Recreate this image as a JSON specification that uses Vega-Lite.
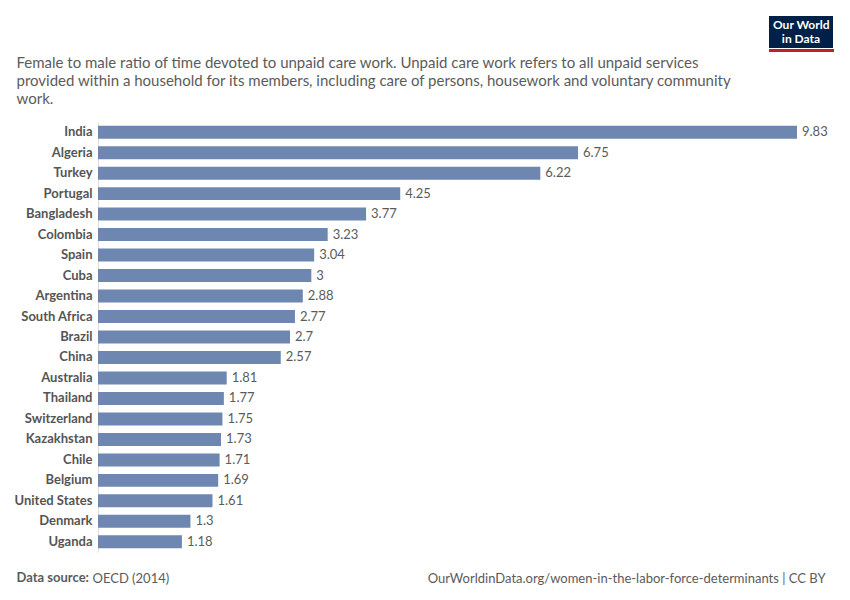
{
  "$schema": "https://vega.github.io/schema/vega-lite/v6.json",
  "autosize": "none",
  "width": 699,
  "height": 430,
  "padding": {"left": 98, "top": 122, "right": 53, "bottom": 48},
  "background": "white",
  "config": {"view": {"stroke": null}, "font": "Lato"},
  "data": {"values": [
    {"country": "India", "value": 9.83},
    {"country": "Algeria", "value": 6.75},
    {"country": "Turkey", "value": 6.22},
    {"country": "Portugal", "value": 4.25},
    {"country": "Bangladesh", "value": 3.77},
    {"country": "Colombia", "value": 3.23},
    {"country": "Spain", "value": 3.04},
    {"country": "Cuba", "value": 3},
    {"country": "Argentina", "value": 2.88},
    {"country": "South Africa", "value": 2.77},
    {"country": "Brazil", "value": 2.7},
    {"country": "China", "value": 2.57},
    {"country": "Australia", "value": 1.81},
    {"country": "Thailand", "value": 1.77},
    {"country": "Switzerland", "value": 1.75},
    {"country": "Kazakhstan", "value": 1.73},
    {"country": "Chile", "value": 1.71},
    {"country": "Belgium", "value": 1.69},
    {"country": "United States", "value": 1.61},
    {"country": "Denmark", "value": 1.3},
    {"country": "Uganda", "value": 1.18}
  ]},
  "resolve": {"scale": {"x": "independent", "y": "independent", "color": "independent"}, "axis": {"x": "independent", "y": "independent"}, "legend": {"color": "independent"}},
  "layer": [
    {
      "mark": {"type": "bar", "color": "#6d87b0"},
      "encoding": {
        "x": {
          "field": "value", "type": "quantitative",
          "scale": {"domain": [0, 9.83], "nice": false, "zero": true},
          "axis": {
            "orient": "bottom", "labels": false, "ticks": false, "domain": false, "grid": false,
            "title": "Data source:", "titleX": -82, "titleY": 29.5, "titleAlign": "left", "titleAnchor": "start",
            "titleBaseline": "alphabetic", "titleFont": "Lato", "titleFontSize": 13, "titleFontWeight": "bold", "titleColor": "#5b5b5b"
          }
        },
        "y": {
          "field": "country", "type": "nominal",
          "scale": {"domain": ["India","Algeria","Turkey","Portugal","Bangladesh","Colombia","Spain","Cuba","Argentina","South Africa","Brazil","China","Australia","Thailand","Switzerland","Kazakhstan","Chile","Belgium","United States","Denmark","Uganda"], "paddingInner": 0.366, "paddingOuter": 0.18},
          "axis": {
            "orient": "left", "ticks": false, "domain": true, "domainColor": "#dddddd", "grid": false,
            "labelFont": "Lato", "labelFontSize": 13, "labelFontWeight": "bold", "labelColor": "#555555", "labelPadding": 6,
            "title": "OurWorldinData.org/women-in-the-labor-force-determinants | CC BY",
            "titleAngle": 0, "titleX": 727, "titleY": 460, "titleAlign": "right", "titleBaseline": "alphabetic",
            "titleFont": "Lato", "titleFontSize": 13, "titleFontWeight": "normal", "titleColor": "#5b5b5b"
          }
        },
        "color": {
          "datum": "logo",
          "scale": {"range": ["#6d87b0"]},
          "legend": {
            "orient": "none", "legendX": 671, "legendY": -106,
            "title": "in Data", "titleOrient": "bottom", "titleAnchor": "middle", "titlePadding": 3,
            "titleColor": "#ffffff", "titleFont": "Lato", "titleFontSize": 12, "titleFontWeight": "bold",
            "fillColor": "#002147", "padding": 3, "symbolSize": 0, "symbolOpacity": 0, "symbolStrokeWidth": 0,
            "labelOffset": -11, "labelExpr": "'Our World'", "labelColor": "#ffffff",
            "labelFont": "Lato", "labelFontSize": 12, "labelFontWeight": "bold"
          }
        }
      }
    },
    {
      "mark": {"type": "text", "align": "left", "baseline": "middle", "dx": 5, "font": "Lato", "fontSize": 13, "color": "#5b5b5b"},
      "encoding": {
        "x": {
          "field": "value", "type": "quantitative",
          "scale": {"domain": [0, 9.83], "nice": false, "zero": true},
          "axis": {
            "orient": "top", "labels": false, "ticks": false, "domain": false, "grid": false,
            "title": ["Female to male ratio of time devoted to unpaid care work. Unpaid care work refers to all unpaid services", "provided within a household for its members, including care of persons, housework and voluntary community", "work."],
            "titleX": -82, "titleY": -54.5, "titleAlign": "left", "titleAnchor": "start", "titleBaseline": "alphabetic",
            "titleLineHeight": 18, "titleFont": "Lato", "titleFontSize": 15, "titleFontWeight": "normal", "titleColor": "#5b5b5b"
          }
        },
        "y": {
          "field": "country", "type": "nominal",
          "scale": {"domain": ["India","Algeria","Turkey","Portugal","Bangladesh","Colombia","Spain","Cuba","Argentina","South Africa","Brazil","China","Australia","Thailand","Switzerland","Kazakhstan","Chile","Belgium","United States","Denmark","Uganda"], "paddingInner": 0.366, "paddingOuter": 0.18},
          "axis": {
            "orient": "right", "labels": false, "ticks": false, "domain": false, "grid": false,
            "title": "OECD (2014)", "titleAngle": 0, "titleX": -705, "titleY": 460, "titleAlign": "left", "titleBaseline": "alphabetic",
            "titleFont": "Lato", "titleFontSize": 13, "titleFontWeight": "normal", "titleColor": "#5b5b5b"
          }
        },
        "text": {"field": "value", "type": "nominal"}
      }
    },
    {
      "mark": {"type": "point", "opacity": 0},
      "encoding": {
        "color": {
          "datum": 1, "type": "quantitative",
          "scale": {"domain": [0, 1], "range": ["#be1e2d", "#be1e2d"]},
          "legend": {
            "orient": "none", "legendX": 671, "legendY": -73, "title": null, "direction": "horizontal",
            "gradientLength": 65, "gradientThickness": 3, "gradientStrokeWidth": 0,
            "labelOpacity": 0, "labelFontSize": 0, "labelExpr": "''", "padding": 0, "tickCount": 2
          }
        }
      }
    }
  ]
}
